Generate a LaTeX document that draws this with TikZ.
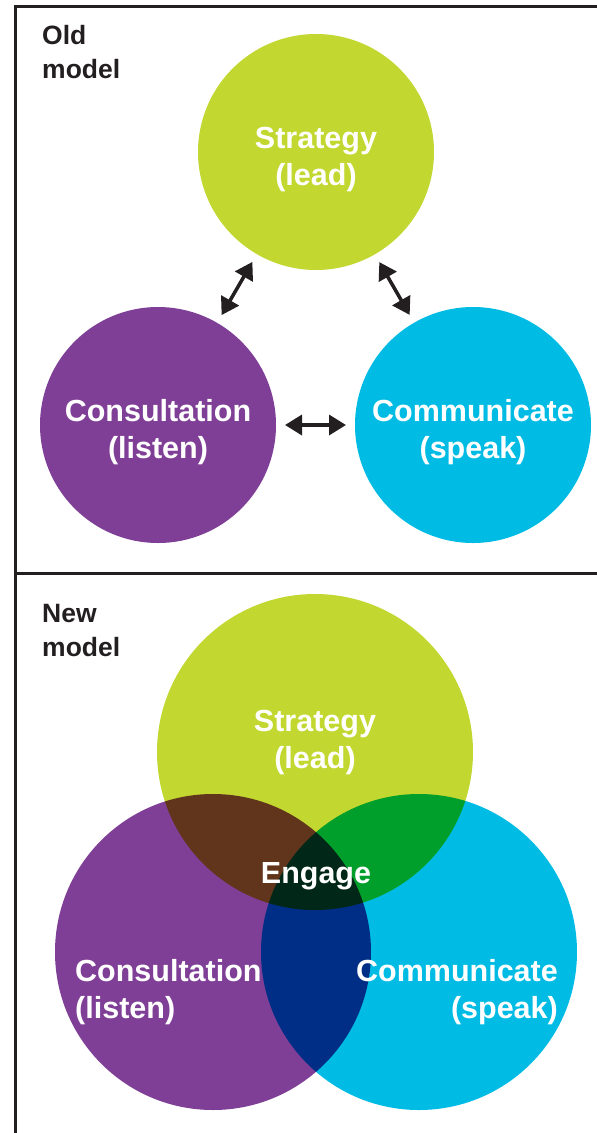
\documentclass[tikz,border=0pt]{standalone}
\usepackage{fontspec}
\setmainfont{Liberation Sans}
\usetikzlibrary{arrows.meta}

\definecolor{stratgreen}{HTML}{C2D72F}
\definecolor{consultpurple}{HTML}{7F3F96}
\definecolor{commcyan}{HTML}{00BCE4}
\definecolor{framegray}{HTML}{231F20}

\tikzset{
  bubble/.style={circle, inner sep=0pt, outer sep=0pt},
  word/.style={text=white, font=\fontsize{30.5}{37}\selectfont\bfseries, align=center, inner sep=0pt},
  title/.style={text=framegray, font=\fontsize{26.5}{34.5}\selectfont\bfseries, align=left, anchor=north west, inner sep=0pt},
  link/.style={line width=3.5pt, draw=framegray, {Triangle[length=17pt,width=20pt]}-{Triangle[length=17pt,width=20pt]}, shorten <=9pt, shorten >=9pt},
  boxline/.style={line width=3pt, draw=framegray}
}

\begin{document}
\begin{tikzpicture}[x=1pt, y=-1pt]
  \useasboundingbox (0,0) rectangle (597,1133);

  % frame
  \draw[boxline] (15.5,1133) -- (15.5,6.5) -- (597,6.5);
  \draw[boxline] (15.5,573) -- (597,573);

  % old model
  \node[title] (oldtitle) at (42,25) {Old\\model};
  \node[bubble, fill=stratgreen, minimum size=236pt] (ostrat) at (316,152) {};
  \node[bubble, fill=consultpurple, minimum size=236pt] (ocon) at (158,425) {};
  \node[bubble, fill=commcyan, minimum size=236pt] (ocom) at (473,425) {};
  \node[word] (ostratlbl) at ([yshift=-8pt]ostrat.center) {Strategy\\(lead)};
  \node[word] (oconlbl) at ([yshift=-7pt]ocon.center) {Consultation\\(listen)};
  \node[word] (ocomlbl) at ([yshift=-7pt]ocom.center) {Communicate\\(speak)};
  \draw[link] (ostrat) -- (ocon);
  \draw[link] (ostrat) -- (ocom);
  \draw[link] (ocon) -- (ocom);

  % new model
  \node[title] (newtitle) at (42,604) {New\\model};
  \begin{scope}[blend group=multiply]
    \node[bubble, fill=stratgreen, minimum size=316pt] (nstrat) at (315,752) {};
    \node[bubble, fill=consultpurple, minimum size=316pt] (ncon) at (213,952) {};
    \node[bubble, fill=commcyan, minimum size=316pt] (ncom) at (419,952) {};
  \end{scope}
  \node[word] (nstratlbl) at (315,743) {Strategy\\(lead)};
  \node[word, align=left, anchor=west] (nconlbl) at (75,992) {Consultation\\(listen)};
  \node[word, align=right, anchor=east] (ncomlbl) at (558,992) {Communicate\\(speak)};
  \node[word] (engage) at (316,876) {Engage};
\end{tikzpicture}
\end{document}
